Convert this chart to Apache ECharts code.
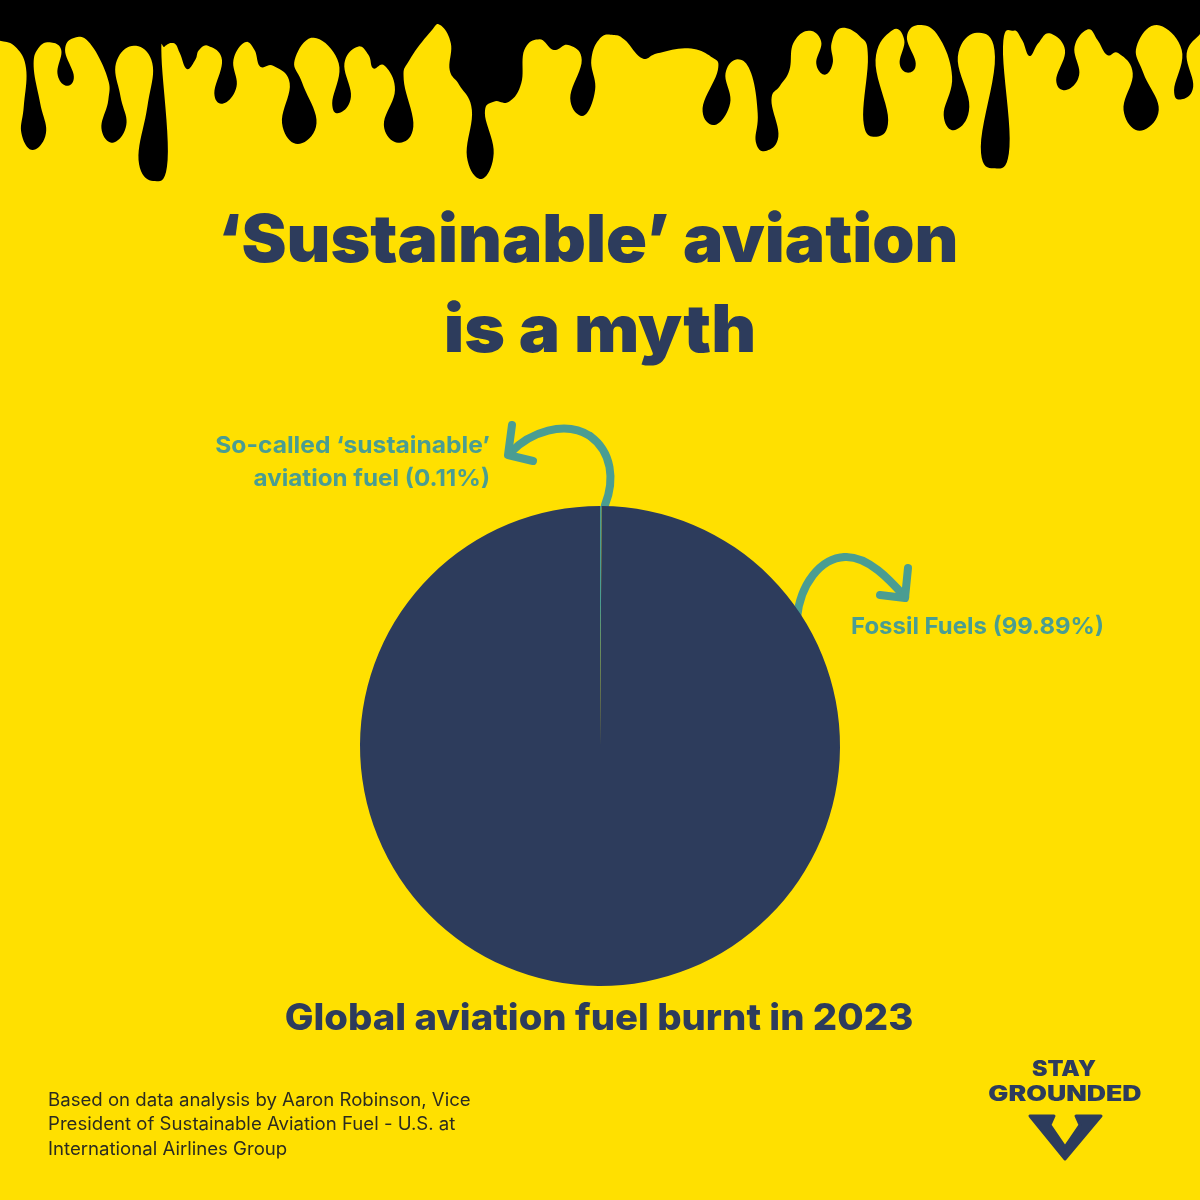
<!DOCTYPE html>
<html>
<head>
<meta charset="utf-8">
<title>Sustainable aviation is a myth</title>
<script src="https://cdn.jsdelivr.net/npm/echarts@6/dist/echarts.min.js"></script>
<style>
  html, body { margin: 0; padding: 0; background: #ffe000; }
  #chart { width: 1200px; height: 1200px; }
</style>
</head>
<body>
<div id="chart"></div>
<script>
const fuelNames = ["So-called ‘sustainable’ aviation fuel", "Fossil Fuels"];
const fuelShares = [0.11, 99.89];
const fuelColors = ["#4a9d92", "#2d3c5c"];

const YELLOW = "#ffe000";
const NAVY = "#2d3c5c";
const TEAL = "#4a9d92";
const FONT = "Inter, 'Noto Sans', sans-serif";

const dripLeft = [[0,122],[40,140],[68,205],[62,320],[56,400],[85,450],[120,400],[105,310],[88,200],[100,145],[130,127],[160,150],[150,220],[172,257],[193,230],[170,150],[195,113],[235,130],[280,230],[283,300],[265,385],[295,428],[330,375],[315,290],[303,190],[350,137],[398,190],[385,320],[362,480],[400,543],[438,480],[422,170],[430,140],[455,130],[470,160],[488,207],[510,180],[520,150],[545,138],[580,180],[560,280],[585,310],[618,260],[610,180],[640,127],[665,150],[680,200],[715,198],[757,250],[737,370],[778,432],[827,370],[790,250],[770,180],[820,113],[885,190],[868,310],[888,338],[917,290],[900,190],[935,140],[963,165],[975,205],[1005,197],[1032,270],[1003,375],[1040,428],[1080,380],[1055,240],[1070,180],[1125,95],[1150,75],[1178,130],[1175,210],[1200,255],[1233,330],[1220,470],[1258,537],[1290,460],[1267,340],[1290,305],[1330,305],[1362,250],[1370,150],[1410,118],[1447,150],[1485,135],[1520,180],[1490,295],[1525,347],[1555,270],[1545,180]];
const dripRight = [[0,115],[35,105],[65,120],[110,175],[150,160],[230,145],[290,170],[308,210],[268,325],[300,375],[340,310],[328,220],[360,178],[395,220],[412,340],[407,425],[432,453],[466,410],[448,300],[470,258],[495,210],[505,130],[545,92],[578,125],[565,190],[587,224],[608,190],[605,130],[630,84],[680,110],[700,170],[688,360],[718,410],[753,360],[720,180],[765,90],[795,120],[783,190],[805,218],[825,190],[802,110],[835,75],[885,110],[920,230],[898,345],[928,390],[965,320],[935,170],[985,98],[1032,170],[995,440],[1032,505],[1070,440],[1053,140],[1080,92],[1103,120],[1122,168],[1145,130],[1175,100],[1215,150],[1192,240],[1218,270],[1252,225],[1240,140],[1275,88],[1300,120],[1325,165],[1355,160],[1392,220],[1368,330],[1410,392],[1460,330],[1420,220],[1402,140],[1455,75],[1520,150],[1500,270],[1520,298],[1550,260],[1533,160],[1568,102]];

// the crops are 600px wide shown 1568 wide, 190px tall shown 570 tall
function toPage(list, offset) {
  return list.map(function (p) { return [p[0] / 2.613 + offset, p[1] / 3]; });
}

// graphic has no svg path type, so the outline is sampled into a polygon.
// tangents are longer than plain catmull-rom, otherwise the drips come out pointy
function dripPoints() {
  const pts = toPage(dripLeft, 0).concat(toPage(dripRight, 600));
  const out = [[0, 0]];
  const tension = 0.62;
  for (let i = 0; i < pts.length - 1; i++) {
    const p0 = pts[Math.max(i - 1, 0)];
    const p1 = pts[i];
    const p2 = pts[i + 1];
    const p3 = pts[Math.min(i + 2, pts.length - 1)];
    for (let k = 0; k < 10; k++) {
      const t = k / 10;
      const h00 = 2 * t * t * t - 3 * t * t + 1;
      const h10 = t * t * t - 2 * t * t + t;
      const h01 = -2 * t * t * t + 3 * t * t;
      const h11 = t * t * t - t * t;
      out.push([0, 1].map(function (j) {
        return h00 * p1[j] + h10 * tension * (p2[j] - p0[j]) + h01 * p2[j] + h11 * tension * (p3[j] - p1[j]);
      }));
    }
  }
  out.push(pts[pts.length - 1]);
  out.push([1200, 0]);
  return out;
}

// Inter is narrower than the poster's font, so text gets stretched a little with scaleX
function label(x, y, text, size, weight, color, align, stretch) {
  return {
    type: "text",
    x: x,
    y: y,
    scaleX: stretch || 1,
    style: {
      text: text,
      fill: color,
      font: weight + " " + size + "px " + FONT,
      textAlign: align || "center",
      textVerticalAlign: "middle"
    }
  };
}

const arrowStyle = { fill: null, stroke: TEAL, lineWidth: 8, lineCap: "round", lineJoin: "round" };

function curve(x1, y1, cpx1, cpy1, cpx2, cpy2, x2, y2) {
  return {
    type: "bezierCurve",
    shape: { x1: x1, y1: y1, cpx1: cpx1, cpy1: cpy1, cpx2: cpx2, cpy2: cpy2, x2: x2, y2: y2 },
    style: arrowStyle
  };
}

function head(points) {
  return { type: "polyline", shape: { points: points }, style: arrowStyle };
}

const chart = echarts.init(document.getElementById("chart"), null, { renderer: "canvas" });
chart.setOption({
  backgroundColor: YELLOW,
  animation: false,
  series: [{
    type: "pie",
    center: [600, 746],
    radius: [0, 240],
    startAngle: 90,
    silent: true,
    label: { show: false },
    labelLine: { show: false },
    data: fuelNames.map(function (name, i) {
      return { name: name, value: fuelShares[i], itemStyle: { color: fuelColors[i] } };
    })
  }],
  graphic: [
    { type: "polygon", shape: { points: dripPoints() }, style: { fill: "#000000" } },
    label(588, 242, "‘Sustainable’ aviation", 66, 900, NAVY, "center", 1.025),
    label(600, 332, "is a myth", 66, 900, NAVY, "center", 1.05),
    label(490, 446, "So-called ‘sustainable’", 23.5, 700, TEAL, "right", 1.047),
    label(490, 479, "aviation fuel (0.11%)", 23.5, 700, TEAL, "right", 1.03),
    label(851, 627, "Fossil Fuels (99.89%)", 23.5, 700, TEAL, "left", 1.02),
    label(599, 1019, "Global aviation fuel burnt in 2023", 37, 800, NAVY, "center", 1.034),
    label(48, 1101, "Based on data analysis by Aaron Robinson, Vice", 18, 400, "#2b2b20", "left", 1.034),
    label(48, 1125, "President of Sustainable Aviation Fuel - U.S. at", 18, 400, "#2b2b20", "left", 1.034),
    label(48, 1150, "International Airlines Group", 18, 400, "#2b2b20", "left", 1.034),
    curve(605, 505, 615, 480, 612, 452, 590, 436),
    curve(590, 436, 565, 420, 530, 432, 510, 453),
    head([[512, 425], [508, 455], [533, 461]]),
    curve(797, 618, 800, 585, 820, 558, 845, 557),
    curve(845, 557, 868, 556, 890, 580, 905, 597),
    head([[908, 568], [905, 598], [880, 595]]),
    label(1064, 1070, "STAY", 21, 900, NAVY, "center", 1.11),
    label(1065, 1095, "GROUNDED", 21, 900, NAVY, "center", 1.27),
    {
      type: "polygon",
      shape: { points: [[1030,1116],[1054,1116],[1050,1125],[1065,1147],[1080,1125],[1076,1116],[1101,1116],[1065,1159]] },
      style: { fill: NAVY, stroke: NAVY, lineWidth: 3, lineJoin: "round" }
    }
  ]
});
</script>
</body>
</html>
